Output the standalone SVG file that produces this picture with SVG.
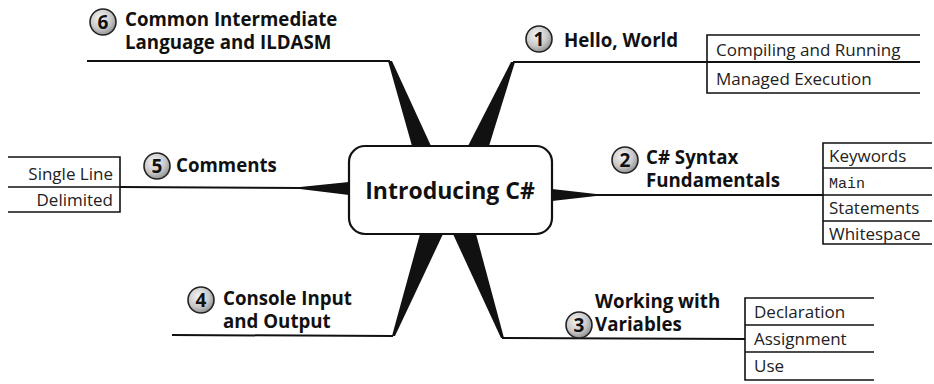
<svg xmlns="http://www.w3.org/2000/svg" width="934" height="384" viewBox="0 0 934 384">
  <defs>
    <radialGradient id="ball" cx="0.4" cy="0.35" r="0.7">
      <stop offset="0" stop-color="#f4f4f4"/>
      <stop offset="0.6" stop-color="#c8c8c8"/>
      <stop offset="1" stop-color="#8a8a8a"/>
    </radialGradient>
    <style>
      .ln { stroke: #111; stroke-width: 2; fill: none; }
      .tb { stroke: #111; stroke-width: 1.6; fill: none; }
      .wedge { fill: #111; stroke: none; }
      .head { font-family: "Open Sans", "Liberation Sans", sans-serif; font-weight: bold; font-size: 18.7px; fill: #111; }
      .item { font-family: "Open Sans", "Liberation Sans", sans-serif; font-size: 17px; fill: #222; }
      .mono { font-family: "Liberation Mono", "DejaVu Sans Mono", monospace; font-size: 15px; fill: #222; }
      .num { font-family: "Open Sans", "Liberation Sans", sans-serif; font-weight: bold; font-size: 19px; fill: #111; text-anchor: middle; }
      .badge { fill: url(#ball); stroke: #222; stroke-width: 1.6; }
      .title { font-family: "Open Sans", "Liberation Sans", sans-serif; font-weight: bold; font-size: 23px; fill: #111; text-anchor: middle; }
    </style>
  </defs>

  <!-- connectors: tapered spokes from the hub plus the branch underlines -->
  <g id="connectors">
    <polygon class="wedge" points="388,61 392,61 431,146 412,146"/>
    <polygon class="wedge" points="511,62 515,62 489,146 468,146"/>
    <polygon class="wedge" points="420,234 443,234 395,336 392,336"/>
    <polygon class="wedge" points="453,234 476,234 504,338 501,338"/>
    <polygon class="wedge" points="349,182 349,195 300,189 300,187"/>
    <polygon class="wedge" points="552,189 552,201 596,196 596,194"/>
    <line class="ln" x1="87" y1="61" x2="390" y2="61"/>
    <line class="ln" x1="513" y1="62" x2="920" y2="62"/>
    <line class="ln" x1="120" y1="187" x2="300" y2="188"/>
    <line class="ln" x1="594" y1="195" x2="823" y2="195"/>
    <line class="ln" x1="172" y1="335" x2="393" y2="336"/>
    <line class="ln" x1="502" y1="338" x2="745" y2="339"/>
  </g>

  <!-- hub -->
  <g id="hub">
    <rect x="349" y="146" width="203" height="88" rx="16" ry="16" fill="#fff" stroke="#111" stroke-width="2.2"/>
    <text class="title" x="450" y="199">Introducing C#</text>
  </g>

  <!-- 1 Hello, World -->
  <g id="node1">
    <circle class="badge" cx="539" cy="39" r="13"/>
    <text class="num" x="539" y="46">1</text>
    <text class="head" x="564" y="47">Hello, World</text>
    <polyline class="tb" points="920,35 707,35 707,93 920,93"/>
    <text class="item" x="716" y="56">Compiling and Running</text>
    <text class="item" x="716" y="85">Managed Execution</text>
  </g>

  <!-- 2 C# Syntax Fundamentals -->
  <g id="node2">
    <circle class="badge" cx="625" cy="160" r="13"/>
    <text class="num" x="625" y="167">2</text>
    <text class="head" x="646" y="164">C# Syntax</text>
    <text class="head" x="646" y="187">Fundamentals</text>
    <polyline class="tb" points="932,143 823,143 823,244 932,244"/>
    <line class="tb" x1="823" y1="168" x2="932" y2="168"/>
    <line class="tb" x1="823" y1="195" x2="932" y2="195"/>
    <line class="tb" x1="823" y1="221" x2="932" y2="221"/>
    <text class="item" x="829" y="162">Keywords</text>
    <text class="mono" x="829" y="188">Main</text>
    <text class="item" x="829" y="214">Statements</text>
    <text class="item" x="829" y="240">Whitespace</text>
  </g>

  <!-- 3 Working with Variables -->
  <g id="node3">
    <circle class="badge" cx="579" cy="325" r="13"/>
    <text class="num" x="579" y="332">3</text>
    <text class="head" x="595" y="308">Working with</text>
    <text class="head" x="595" y="331">Variables</text>
    <polyline class="tb" points="874,298 745,298 745,380 874,380"/>
    <line class="tb" x1="745" y1="325" x2="874" y2="325"/>
    <line class="tb" x1="745" y1="352" x2="874" y2="352"/>
    <text class="item" x="754" y="318">Declaration</text>
    <text class="item" x="754" y="345">Assignment</text>
    <text class="item" x="754" y="372">Use</text>
  </g>

  <!-- 4 Console Input and Output -->
  <g id="node4">
    <circle class="badge" cx="201" cy="300" r="13"/>
    <text class="num" x="201" y="307">4</text>
    <text class="head" x="223" y="305">Console Input</text>
    <text class="head" x="223" y="328">and Output</text>
  </g>

  <!-- 5 Comments -->
  <g id="node5">
    <circle class="badge" cx="157" cy="166" r="13"/>
    <text class="num" x="157" y="173">5</text>
    <text class="head" x="176" y="172">Comments</text>
    <polyline class="tb" points="8,157 120,157 120,212 8,212"/>
    <line class="tb" x1="8" y1="187" x2="120" y2="187"/>
    <text class="item" x="113" y="180" text-anchor="end">Single Line</text>
    <text class="item" x="113" y="206" text-anchor="end">Delimited</text>
  </g>

  <!-- 6 Common Intermediate Language and ILDASM -->
  <g id="node6">
    <circle class="badge" cx="103" cy="22" r="13"/>
    <text class="num" x="103" y="29">6</text>
    <text class="head" x="125" y="26">Common Intermediate</text>
    <text class="head" x="125" y="49">Language and ILDASM</text>
  </g>
</svg>
